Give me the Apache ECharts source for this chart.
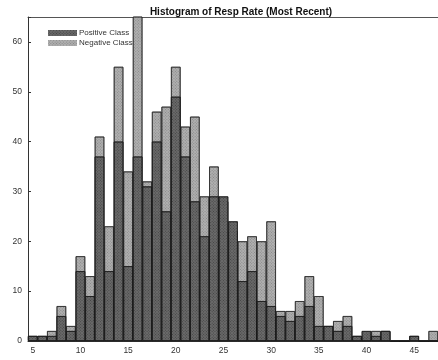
<!DOCTYPE html>
<html>
<head>
<meta charset="utf-8">
<script src="https://cdn.jsdelivr.net/npm/echarts@6/dist/echarts.min.js"></script>
<style>
  html, body { margin: 0; padding: 0; background: #fff; }
  #chart { width: 438px; height: 360px; }
</style>
</head>
<body>
<div id="chart"></div>
<script>
// Response-rate bins (one bar per integer value)
const bins = [5, 6, 7, 8, 9, 10, 11, 12, 13, 14, 15, 16, 17, 18, 19, 20, 21, 22, 23, 24, 25, 26,
              27, 28, 29, 30, 31, 32, 33, 34, 35, 36, 37, 38, 39, 40, 41, 42, 43, 44, 45, 46, 47];

// Counts per bin for each class
const positiveCounts = [1, 1, 1, 5, 2, 14, 9, 37, 14, 40, 15, 37, 31, 40, 26, 49, 37, 28, 21, 29, 29, 24,
                        12, 14, 8, 7, 5, 4, 5, 7, 3, 3, 2, 3, 1, 2, 1, 2, 0, 0, 1, 0, 0];
const negativeCounts = [1, 1, 2, 7, 3, 17, 13, 41, 23, 55, 34, 70, 32, 46, 47, 55, 43, 45, 29, 35, 28, 22,
                        20, 21, 20, 24, 6, 6, 8, 13, 9, 3, 4, 5, 1, 1, 2, 2, 0, 0, 1, 0, 2];

const yTicks = [0, 10, 20, 30, 40, 50, 60];

const chart = echarts.init(document.getElementById('chart'));

const labelFont = { fontFamily: 'Liberation Sans, Arial, sans-serif', fontSize: 8.5, color: '#333' };

// fine crosshatch texture for the bar fills
function hatch(color) {
  return { symbol: 'rect', symbolSize: 1, dashArrayX: [1, 1], dashArrayY: [1, 1], rotation: Math.PI / 4, color: color };
}

chart.setOption({
  animation: false,
  title: {
    text: 'Histogram of Resp Rate (Most Recent)',
    left: 236, textAlign: 'center', top: 2,
    textStyle: { fontFamily: 'Liberation Sans, Arial, sans-serif', fontSize: 10, fontWeight: 'bold', color: '#111' }
  },
  legend: {
    data: ['Positive Class', 'Negative Class'],
    orient: 'vertical', left: 43, top: 24,
    itemWidth: 29, itemHeight: 6, itemGap: 2,
    itemStyle: { borderWidth: 0 },
    textStyle: Object.assign({}, labelFont, { fontSize: 8, padding: [0, 0, 0, -3] }),
    icon: 'rect'
  },
  grid: { left: 28, top: 17, bottom: 19, right: -8.6, containLabel: false },
  xAxis: [{
    type: 'category', data: bins, boundaryGap: true,
    axisLine: { lineStyle: { color: '#333', width: 1 } },
    axisTick: { inside: true, alignWithLabel: true, interval: 4, length: 3, lineStyle: { color: '#333' } },
    axisLabel: Object.assign({ interval: 4, margin: 5 }, labelFont)
  }, {
    type: 'category', data: bins, boundaryGap: true, position: 'top',
    axisLine: { lineStyle: { color: '#555', width: 1 } },
    axisTick: { inside: true, alignWithLabel: true, interval: 4, length: 3, lineStyle: { color: '#555' } },
    axisLabel: { show: false }
  }],
  yAxis: {
    type: 'value', min: 0, max: 65, interval: 10,
    splitLine: { show: false },
    axisLine: { show: true, lineStyle: { color: '#333', width: 1 } },
    axisTick: { show: true, inside: true, length: 3, lineStyle: { color: '#333' } },
    axisLabel: Object.assign({
      margin: 6,
      formatter: v => (yTicks.indexOf(v) >= 0 ? String(v) : '')
    }, labelFont)
  },
  series: [{
    name: 'Negative Class', type: 'bar', data: negativeCounts,
    barWidth: '100%', barGap: '-100%', clip: true,
    itemStyle: { color: '#b0b0b0', borderColor: '#2a2a2a', borderWidth: 0.7, decal: hatch('rgba(60,60,60,0.35)') }
  }, {
    name: 'Positive Class', type: 'bar', data: positiveCounts,
    barWidth: '100%', barGap: '-100%', clip: true,
    itemStyle: { color: '#6a6a6a', borderColor: '#1a1a1a', borderWidth: 0.7, decal: hatch('rgba(20,20,20,0.45)') }
  }]
});
</script>
</body>
</html>
